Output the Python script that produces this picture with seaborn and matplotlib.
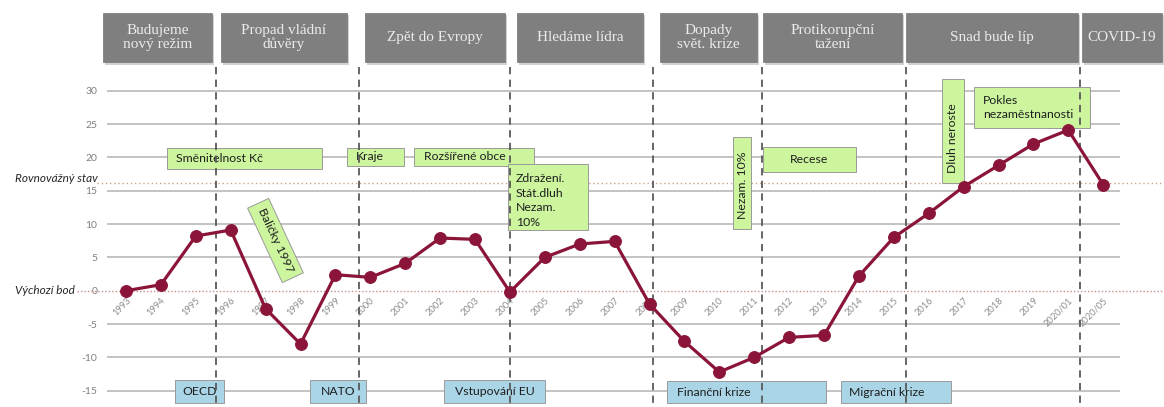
import matplotlib
matplotlib.use("Agg")
import matplotlib.pyplot as plt
from matplotlib.patches import Rectangle
import seaborn as sns
import pandas as pd

# ---------------- data ----------------
years = ['1993', '1994', '1995', '1996', '1997', '1998', '1999', '2000', '2001', '2002',
         '2003', '2004', '2005', '2006', '2007', '2008', '2009', '2010', '2011', '2012',
         '2013', '2014', '2015', '2016', '2017', '2018', '2019', '2020/01', '2020/05']
values = [0.0, 0.9, 8.2, 9.1, -2.7, -8.0, 2.4, 2.0, 4.1, 7.9,
          7.7, -0.2, 5.0, 7.0, 7.4, -2.0, -7.6, -12.2, -10.0, -7.0,
          -6.7, 2.2, 8.0, 11.6, 15.6, 18.8, 22.0, 24.1, 15.9]
y_ticks = [-15, -10, -5, 0, 5, 10, 15, 20, 25, 30]
equilibrium_level = 16.1
start_level = 0.0
period_labels = ['Budujeme\nnový režim', 'Propad vládní\ndůvěry', 'Zpět do Evropy',
                 'Hledáme lídra', 'Dopady\nsvět. krize', 'Protikorupční\ntažení',
                 'Snad bude líp', 'COVID-19']
period_breaks = [2.58, 6.68, 11.0, 15.09, 18.22, 22.36, 27.34]

df = pd.DataFrame({'idx': list(range(len(years))), 'value': values})

# ---------------- figure / axes ----------------
sns.set_style('white')
plt.rcParams['font.family'] = ['Lato', 'DejaVu Sans']

W, H = 1164, 407
fig = plt.figure(figsize=(W / 100, H / 100), dpi=100)
AX_L, AX_R = 107, 1120
ax = fig.add_axes([AX_L / W, 0, (AX_R - AX_L) / W, 1])

X0, DX = 126.0, 34.9      # pixel of first category, pixel per category
Y0, DY = 290.7, 6.667     # pixel of value 0, pixel per unit


def xd(px):
    return (px - X0) / DX


def yd(py):
    return (Y0 - py) / DY


ax.set_xlim(xd(AX_L), xd(AX_R))
ax.set_ylim(yd(H), yd(0))

for s in ax.spines.values():
    s.set_visible(False)
ax.spines['bottom'].set_position(('data', 0))

# gridlines (value 0 replaced by the dotted reference line)
for t in y_ticks:
    if t != 0:
        ax.axhline(t, color='#c3c3c3', lw=1.4, zorder=0.5)

ax.set_yticks(y_ticks)
ax.set_yticklabels([str(t) for t in y_ticks])
ax.tick_params(axis='y', length=0, pad=7, labelcolor='#7f7f7f', labelsize=7.5)

ax.set_xticks(df['idx'])
ax.set_xticklabels(years)
ax.tick_params(axis='x', length=0, pad=4, labelcolor='#8c8c8c', labelsize=6.7)
for lbl in ax.get_xticklabels():
    lbl.set_rotation(45)
    lbl.set_ha('right')
    lbl.set_va('top')
    lbl.set_rotation_mode('anchor')

# reference dotted lines
ax.plot([xd(97), xd(W)], [equilibrium_level] * 2, color='#cfa08c', lw=1.0,
        ls=(0, (1, 2)), clip_on=False, zorder=1)
ax.plot([xd(77), xd(W)], [start_level] * 2, color='#c98c8c', lw=1.0,
        ls=(0, (1, 1.5)), clip_on=False, zorder=1)
ax.text(xd(98), yd(178), 'Rovnovážný stav', ha='right', va='center', style='italic',
        fontsize=8.5, color='#262626', clip_on=False)
ax.text(xd(75), start_level, 'Výchozí bod', ha='right', va='center', style='italic',
        fontsize=8.5, color='#262626', clip_on=False)

# period separators
for b in period_breaks:
    ax.plot([b, b], [yd(67), yd(H)], color='#595959', lw=1.3, ls=(0, (4, 3)),
            zorder=3, clip_on=False)


def rect(x0, y0, x1, y1, fc, ec='#9a9a9a', lw=0.7, z=2):
    ax.add_patch(Rectangle((xd(x0), yd(y1)), xd(x1) - xd(x0), yd(y0) - yd(y1),
                           fc=fc, ec=ec, lw=lw, zorder=z, clip_on=False))


# header period boxes
header_px = [(103, 212), (221, 347), (365, 505), (517, 643), (660, 757),
             (763, 902), (906, 1078), (1082, 1162)]
for (a, b), lab in zip(header_px, period_labels):
    rect(a + 2, 15, b + 2, 65, '#d2d2d2', ec='none', lw=0, z=2.9)
    rect(a, 13, b, 62, '#7f7f7f', ec='#767676', lw=0.5, z=3)
    ax.text(xd((a + b) / 2), yd(37.5), lab, ha='center', va='center', color='#ebebeb',
            fontsize=11, family=['Liberation Serif', 'DejaVu Serif'],
            linespacing=1.1, zorder=3.5, clip_on=False)

GREEN = '#ccf59e'
BLUE = '#a9d5e6'
TXT = '#1f1f1f'
FS = 8.8

# green event boxes
rect(167, 148, 322, 169, GREEN)
ax.text(xd(176), yd(158.5), 'Směnitelnost Kč', ha='left', va='center', fontsize=FS, color=TXT, zorder=2.5)
rect(347, 148, 404, 166, GREEN)
ax.text(xd(356), yd(157), 'Kraje', ha='left', va='center', fontsize=FS, color=TXT, zorder=2.5)
rect(414, 148, 534, 166, GREEN)
ax.text(xd(424), yd(157), 'Rozšířené obce', ha='left', va='center', fontsize=FS, color=TXT, zorder=2.5)
rect(508, 164, 588, 230, GREEN)
ax.text(xd(516), yd(173), 'Zdražení.\nStát.dluh\nNezam.\n10%', ha='left', va='top',
        fontsize=FS, color=TXT, linespacing=1.4, zorder=2.5)
rect(733, 137, 751, 229, GREEN)
ax.text(xd(742), yd(185), 'Nezam. 10%', ha='center', va='center', rotation=90,
        fontsize=FS, color=TXT, zorder=2.5)
rect(763, 147, 856, 172, GREEN)
ax.text(xd(809), yd(159.5), 'Recese', ha='center', va='center', fontsize=FS, color=TXT, zorder=2.5)
rect(942, 79, 964, 183, GREEN)
ax.text(xd(953), yd(138), 'Dluh neroste', ha='center', va='center', rotation=90,
        fontsize=FS, color=TXT, zorder=2.5)
rect(974, 87, 1090, 128, GREEN)
ax.text(xd(983), yd(107.5), 'Pokles\nnezaměstnanosti', ha='left', va='center',
        fontsize=FS, color=TXT, linespacing=1.35, zorder=2.5)
ax.text(xd(275.5), yd(240.5), 'Baličky 1997', ha='center', va='center', rotation=-65,
        rotation_mode='anchor', fontsize=8.8, color=TXT, zorder=2.5,
        bbox=dict(boxstyle='square,pad=0.5', fc=GREEN, ec='#9a9a9a', lw=0.7))

# blue event boxes
rect(175, 380, 224, 403, BLUE)
ax.text(xd(199.5), yd(391.5), 'OECD', ha='center', va='center', fontsize=FS, color=TXT, zorder=2.5)
rect(310, 380, 366, 403, BLUE)
ax.text(xd(338), yd(391.5), 'NATO', ha='center', va='center', fontsize=FS, color=TXT, zorder=2.5)
rect(444, 380, 545, 403, BLUE)
ax.text(xd(494.5), yd(391.5), 'Vstupování EU', ha='center', va='center', fontsize=FS, color=TXT, zorder=2.5)
rect(667, 381, 826, 403, BLUE)
ax.text(xd(677), yd(392), 'Finanční krize', ha='left', va='center', fontsize=FS, color=TXT, zorder=2.5)
rect(841, 381, 951, 403, BLUE)
ax.text(xd(849), yd(392), 'Migrační krize', ha='left', va='center', fontsize=FS, color=TXT, zorder=2.5)

# main series
sns.lineplot(data=df, x='idx', y='value', ax=ax, color='#8b1538', lw=2.3,
             marker='o', markersize=8.5, markeredgecolor='#8b1538', zorder=4)
ax.set_xlabel('')
ax.set_ylabel('')
ax.set_xlim(xd(AX_L), xd(AX_R))
ax.set_ylim(yd(H), yd(0))

fig.savefig('out.png', dpi=100)
